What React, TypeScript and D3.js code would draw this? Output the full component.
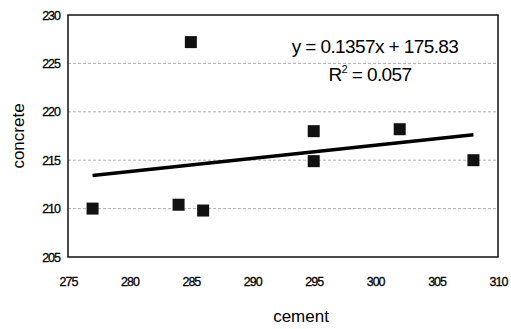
import React, { useEffect, useRef } from 'react';
import * as d3 from 'd3';

const cement = [277, 284, 286, 285, 295, 295, 302, 308];
const concrete = [210.0, 210.4, 209.8, 227.2, 218.0, 214.9, 218.2, 215.0];
const xTicks = [275, 280, 285, 290, 295, 300, 305, 310];
const yTicks = [205, 210, 215, 220, 225, 230];
const slope = 0.1357;
const intercept = 175.83;
const eqLabel = 'y = 0.1357x + 175.83';
const r2Value = '0.057';

const ScatterChart = () => {
  const ref = useRef<SVGSVGElement | null>(null);

  useEffect(() => {
    if (!ref.current) return;
    const svg = d3.select(ref.current);
    svg.selectAll('*').remove();

    const left = 68;
    const right = 498;
    const top = 15;
    const bottom = 257;
    const font = 'Liberation Sans, Arial, sans-serif';

    const x = d3.scaleLinear().domain([275, 310]).range([left, right]);
    const y = d3.scaleLinear().domain([205, 230]).range([bottom, top]);

    // grid
    yTicks
      .filter((d) => d > 205 && d < 230)
      .forEach((d) => {
        svg
          .append('line')
          .attr('x1', left)
          .attr('x2', right)
          .attr('y1', y(d))
          .attr('y2', y(d))
          .attr('stroke', '#999')
          .attr('stroke-width', 0.8)
          .attr('stroke-dasharray', '3,2');
      });

    // frame
    svg
      .append('rect')
      .attr('x', left)
      .attr('y', top)
      .attr('width', right - left)
      .attr('height', bottom - top)
      .attr('fill', 'none')
      .attr('stroke', '#111')
      .attr('stroke-width', 1.5);

    const styleTicks = (g) => {
      g.select('.domain').remove();
      g.selectAll('.tick text')
        .style('font-family', font)
        .style('font-size', '12.5px')
        .style('letter-spacing', '-1px')
        .style('fill', '#000')
        .style('stroke', '#000')
        .style('stroke-width', 0.3);
    };

    svg
      .append('g')
      .attr('transform', `translate(${left},0)`)
      .call(d3.axisLeft(y).tickValues(yTicks).tickSize(0).tickPadding(8))
      .call(styleTicks);

    svg
      .append('g')
      .attr('transform', `translate(0,${bottom})`)
      .call(d3.axisBottom(x).tickValues(xTicks).tickSize(0).tickPadding(20))
      .call(styleTicks);

    // trend line
    const xs = d3.extent(cement) as [number, number];
    const line = d3
      .line<number>()
      .x((d) => x(d))
      .y((d) => y(slope * d + intercept));
    svg
      .append('path')
      .datum(xs)
      .attr('d', line)
      .attr('fill', 'none')
      .attr('stroke', '#000')
      .attr('stroke-width', 3.5);

    // markers
    const s = 12;
    svg
      .selectAll('.pt')
      .data(cement)
      .enter()
      .append('rect')
      .attr('x', (d) => x(d) - s / 2)
      .attr('y', (d, i) => y(concrete[i]) - s / 2)
      .attr('width', s)
      .attr('height', s)
      .attr('fill', '#111');

    // equation
    svg
      .append('text')
      .attr('x', 375)
      .attr('y', 53)
      .attr('text-anchor', 'middle')
      .style('font-family', font)
      .style('font-size', '19px')
      .style('letter-spacing', '-0.6px')
      .text(eqLabel);
    const r2 = svg
      .append('text')
      .attr('x', 370)
      .attr('y', 81)
      .attr('text-anchor', 'middle')
      .style('font-family', font)
      .style('font-size', '19px')
      .style('letter-spacing', '-0.6px');
    r2.append('tspan').text('R');
    r2.append('tspan').attr('dy', -8).style('font-size', '11px').text('2');
    r2.append('tspan').attr('dy', 8).text(` = ${r2Value}`);

    // axis titles
    svg
      .append('text')
      .attr('x', 301)
      .attr('y', 322)
      .attr('text-anchor', 'middle')
      .style('font-family', font)
      .style('font-size', '17px')
      .text('cement');
    svg
      .append('text')
      .attr('transform', 'translate(24,136) rotate(-90)')
      .attr('text-anchor', 'middle')
      .style('font-family', font)
      .style('font-size', '17px')
      .text('concrete');
  }, []);

  return (
    <svg
      ref={ref}
      width={511}
      height={329}
      style={{ position: 'absolute', left: 0, top: 0, background: '#fff' }}
    />
  );
};

export default function App() {
  return <ScatterChart />;
}
